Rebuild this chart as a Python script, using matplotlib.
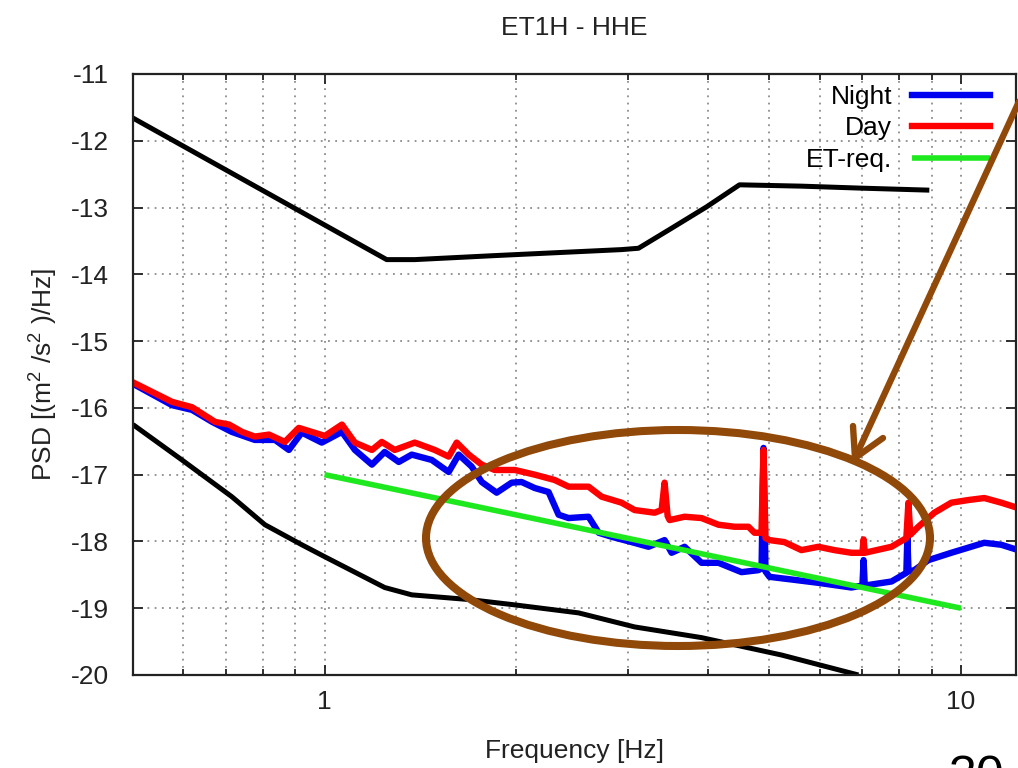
import matplotlib
matplotlib.use("Agg")
import matplotlib.pyplot as plt
from matplotlib.lines import Line2D
from matplotlib.patches import Ellipse
from matplotlib.ticker import FixedLocator, NullFormatter

plt.rcParams["font.family"] = ["Liberation Sans", "DejaVu Sans"]
plt.rcParams["mathtext.fontset"] = "custom"
plt.rcParams["mathtext.rm"] = "Liberation Sans"
plt.rcParams["mathtext.it"] = "Liberation Sans:italic"
plt.rcParams["axes.unicode_minus"] = False

# Peterson-style high / low noise model bounds
nhnm_freq = [0.5, 1.252, 1.386, 1.851, 2.93, 3.114, 3.51, 3.983, 4.487, 5.615, 6.977, 8.917]
nhnm_psd = [-11.66, -13.78, -13.78, -13.72, -13.63, -13.61, -13.31, -12.99, -12.66, -12.68, -12.71, -12.74]

nlnm_freq = [0.5, 0.597, 0.715, 0.806, 0.921, 1.001, 1.243, 1.371, 1.685, 1.99, 2.507, 3.07, 3.91, 5.22, 6.9]
nlnm_psd = [-16.25, -16.78, -17.33, -17.75, -18.05, -18.23, -18.69, -18.80, -18.87, -18.95, -19.07, -19.28,
            -19.44, -19.70, -20.0]

# ET requirement
etreq_freq = [1.0, 10.0]
etreq_psd = [-17.0, -19.0]

# measured spectra
night_freq = [0.498, 0.576, 0.619, 0.666, 0.715, 0.777, 0.836, 0.879, 0.921, 0.99, 1.065, 1.116, 1.187,
              1.243, 1.308, 1.371, 1.474, 1.567, 1.625, 1.703, 1.766, 1.864, 1.968, 2.04, 2.139, 2.249,
              2.332, 2.418, 2.599, 2.696, 2.825, 3.037, 3.229, 3.422, 3.51, 3.679, 3.911, 4.159, 4.52,
              4.807, 4.86, 4.894, 4.93, 5.001, 5.416, 5.97, 6.726, 7.0, 7.03, 7.06, 7.777, 8.206, 8.236,
              8.27, 8.447, 8.887, 9.656, 10.88, 11.57, 12.3]
night_psd = [-15.63, -15.96, -16.03, -16.21, -16.36, -16.48, -16.48, -16.63, -16.37, -16.52, -16.36, -16.63,
             -16.85, -16.66, -16.81, -16.70, -16.78, -16.96, -16.70, -16.88, -17.11, -17.27, -17.12, -17.11,
             -17.20, -17.26, -17.60, -17.65, -17.63, -17.87, -17.93, -18.01, -18.08, -17.98, -18.17, -18.08,
             -18.32, -18.32, -18.46, -18.43, -18.40, -16.60, -18.45, -18.53, -18.57, -18.62, -18.69, -18.66,
             -18.28, -18.66, -18.60, -18.47, -17.93, -18.45, -18.43, -18.28, -18.17, -18.02, -18.05, -18.13]

day_freq = [0.498, 0.576, 0.619, 0.673, 0.708, 0.742, 0.777, 0.818, 0.866, 0.911, 0.955, 1.001, 1.065,
            1.116, 1.187, 1.23, 1.289, 1.386, 1.49, 1.567, 1.613, 1.685, 1.766, 1.851, 1.99, 2.139, 2.299,
            2.418, 2.599, 2.725, 2.929, 3.07, 3.3, 3.385, 3.422, 3.46, 3.485, 3.679, 3.911, 4.159, 4.406,
            4.635, 4.737, 4.859, 4.894, 4.93, 5.001, 5.279, 5.614, 5.97, 6.325, 6.726, 7.0, 7.03, 7.06,
            7.777, 8.206, 8.267, 8.326, 8.57, 9.082, 9.656, 10.27, 10.88, 11.57, 12.3]
day_psd = [-15.61, -15.91, -15.99, -16.21, -16.25, -16.36, -16.43, -16.40, -16.51, -16.30, -16.36, -16.42,
           -16.25, -16.52, -16.63, -16.51, -16.63, -16.52, -16.63, -16.73, -16.52, -16.70, -16.85, -16.93,
           -16.93, -17.00, -17.08, -17.18, -17.18, -17.33, -17.42, -17.53, -17.57, -17.53, -17.12, -17.62,
           -17.68, -17.63, -17.65, -17.75, -17.78, -17.78, -17.87, -17.87, -16.63, -17.95, -17.98, -18.01,
           -18.13, -18.08, -18.13, -18.17, -18.17, -17.97, -18.17, -18.08, -17.95, -17.42, -17.90, -17.78,
           -17.57, -17.42, -17.38, -17.35, -17.42, -17.50]

x_major = [1, 10]
x_minor = [0.6, 0.7, 0.8, 0.9, 2, 3, 4, 5, 6, 7, 8, 9]
y_ticks = list(range(-20, -10))

BROWN = "#91490A"
TXT = "#222222"
FS = 19
W, H = 1018, 768


def px(x, y):
    # figure pixel position (origin top-left) -> inches for dpi_scale_trans
    return x / 100.0, (H - y) / 100.0


fig = plt.figure(figsize=(W / 100, H / 100), dpi=100)
fig.patch.set_facecolor("white")
ax = fig.add_axes([0.1306, 0.1211, 0.8674, 0.7826])

ax.plot(nhnm_freq, nhnm_psd, color="black", lw=3.6, solid_capstyle="butt")
ax.plot(nlnm_freq, nlnm_psd, color="black", lw=3.6, solid_capstyle="butt")
ax.plot(night_freq, night_psd, color="#0000F0", lw=4.6, label="Night")
ax.plot(day_freq, day_psd, color="#FF0000", lw=4.6, label="Day")
ax.plot(etreq_freq, etreq_psd, color="#1EE81E", lw=4.0, label="ET-req.", solid_capstyle="butt")

ax.set_xscale("log")
ax.set_xlim(0.5, 12.2)
ax.set_ylim(-20, -11)
ax.xaxis.set_major_locator(FixedLocator(x_major))
ax.xaxis.set_minor_locator(FixedLocator(x_minor))
ax.set_xticklabels([str(v) for v in x_major])
ax.xaxis.set_minor_formatter(NullFormatter())
ax.set_yticks(y_ticks)
ax.set_yticklabels([str(v) for v in y_ticks])

ax.set_axisbelow(True)
ax.grid(which="both", axis="x", color="#8c8c8c", linestyle=(0, (1, 3)), linewidth=1.3)
ax.grid(which="major", axis="y", color="#8c8c8c", linestyle=(0, (1, 3)), linewidth=1.3)

ax.tick_params(which="both", direction="in", top=True, right=True, width=1.3, colors=TXT,
               labelcolor=TXT, labelsize=FS)
ax.tick_params(which="major", length=7)
ax.tick_params(which="minor", length=4)
ax.tick_params(axis="y", pad=17)
ax.tick_params(axis="x", pad=11)
for sp in ax.spines.values():
    sp.set_linewidth(1.6)
    sp.set_color(TXT)

ax.set_title("ET1H - HHE", fontsize=FS, color=TXT, pad=28)
ax.set_xlabel("Frequency [Hz]", fontsize=FS, color=TXT, labelpad=18)
ax.set_ylabel(r"PSD [(m$^{2}$ /s$^{2}$ )/Hz]", fontsize=FS, color=TXT)
ax.yaxis.set_label_coords(-0.083, 0.5)

ax.legend(loc="upper right", bbox_to_anchor=(0.9706, 0.982), frameon=False, markerfirst=False,
          fontsize=FS, handlelength=2.95, handletextpad=0.76, labelspacing=0.29, borderpad=0,
          borderaxespad=0)

# hand-drawn highlight: ellipse and arrow
cx, cy = px(678, 538)
fig.add_artist(Ellipse((cx, cy), 5.04, 2.16, transform=fig.dpi_scale_trans, fill=False,
                       edgecolor=BROWN, linewidth=5.8, zorder=10))
tip = px(855, 458)
for end in [(1045, 45), (853, 426), (883, 438)]:
    e = px(*end)
    fig.add_artist(Line2D([tip[0], e[0]], [tip[1], e[1]], transform=fig.dpi_scale_trans,
                          color=BROWN, linewidth=4.6, solid_capstyle="round", zorder=10))

# slide number, cut by the lower edge
fig.text(976 / W, -0.03, "30", fontsize=36, ha="center", va="baseline", color="black")

fig.savefig("out.png", dpi=100)
